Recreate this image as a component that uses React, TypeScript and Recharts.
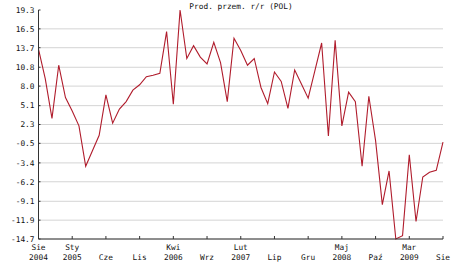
import React from "react";
import { LineChart, Line, XAxis, YAxis, ReferenceLine } from "recharts";

// Prod. przem. r/r (POL), monthly Aug 2004 .. Aug 2009
const values = [
  13.5, 9.1, 3.2, 11.1, 6.3, 4.3, 2.1, -3.9, -1.6, 0.7, 6.7, 2.5, 4.6, 5.7, 7.4, 8.2,
  9.4, 9.6, 9.9, 16.1, 5.3, 19.3, 12.1, 14.0, 12.3, 11.3, 14.5, 11.5, 5.7, 15.1,
  13.3, 11.1, 12.1, 7.8, 5.4, 10.1, 8.7, 4.7, 10.4, 8.3, 6.2, 10.3, 14.4, 0.6, 14.8,
  2.1, 7.1, 5.7, -3.9, 6.5, -0.1, -9.6, -4.6, -14.7, -14.2, -2.2, -12.1, -5.5, -4.8,
  -4.5, -0.3,
];

const xTicks = [0, 5, 10, 15, 20, 25, 30, 35, 40, 45, 50, 55, 60];
const monthLabels = ["Sie", "Sty", "Cze", "Lis", "Kwi", "Wrz", "Lut", "Lip", "Gru", "Maj", "Paź", "Mar", "Sie"];
const yearLabels = ["2004", "2005", "", "", "2006", "", "2007", "", "", "2008", "", "2009", ""];

const yTicks = [19.3, 16.5, 13.7, 10.8, 8.0, 5.1, 2.3, -0.5, -3.4, -6.2, -9.1, -11.9, -14.7];

const data = values.map((v, i) => ({ i, v }));

const FONT = "'DejaVu Sans Mono', 'Liberation Mono', monospace";
const FS = 7.8;

const XTick = (props: any) => {
  const { x, y, payload } = props;
  const k = xTicks.indexOf(payload.value);
  const year = yearLabels[k];
  return (
    <g>
      <line x1={x} x2={x} y1={y - 3} y2={y} stroke="#333" />
      {year ? (
        <>
          <text x={x} y={y + 10.5} textAnchor="middle" fontSize={FS} fontFamily={FONT} fill="#111">
            {monthLabels[k]}
          </text>
          <text x={x} y={y + 21} textAnchor="middle" fontSize={FS} fontFamily={FONT} fill="#111">
            {year}
          </text>
        </>
      ) : (
        <text x={x} y={y + 21} textAnchor="middle" fontSize={FS} fontFamily={FONT} fill="#111">
          {monthLabels[k]}
        </text>
      )}
    </g>
  );
};

const YTick = (props: any) => {
  const { x, y, payload } = props;
  return (
    <g>
      <line x1={x} x2={x + 2} y1={y} y2={y} stroke="#333" />
      <text x={x - 4} y={y + 2.8} textAnchor="end" fontSize={FS} fontFamily={FONT} fill="#111">
        {payload.value.toFixed(1)}
      </text>
    </g>
  );
};

export default function App() {
  return (
    <div style={{ position: "absolute", left: 0, top: 0, width: 458, height: 267, background: "#fff" }}>
      <div
        style={{
          position: "absolute",
          left: 0,
          width: 482,
          top: 2,
          textAlign: "center",
          fontFamily: FONT,
          fontSize: FS,
          color: "#111",
        }}
      >
        Prod. przem. r/r (POL)
      </div>
      <LineChart width={458} height={267} data={data} margin={{ top: 10, right: 15, left: 0, bottom: 0 }}>
        <XAxis
          dataKey="i"
          type="number"
          domain={[0, 60]}
          ticks={xTicks}
          interval={0}
          height={28}
          tickSize={0}
          tickMargin={0}
          tickLine={false}
          stroke="#333"
          tick={<XTick />}
        />
        <YAxis
          type="number"
          domain={[-14.7, 19.3]}
          ticks={yTicks}
          interval={0}
          width={38.5}
          tickSize={0}
          tickMargin={0}
          tickLine={false}
          stroke="#333"
          tick={<YTick />}
        />
        {yTicks.slice(1).map((t) => (
          <ReferenceLine key={t} y={t} stroke="#d4d4d4" strokeWidth={1} />
        ))}
        <Line
          type="linear"
          dataKey="v"
          stroke="#b01c2c"
          strokeWidth={1.1}
          dot={false}
          isAnimationActive={false}
        />
      </LineChart>
    </div>
  );
}
